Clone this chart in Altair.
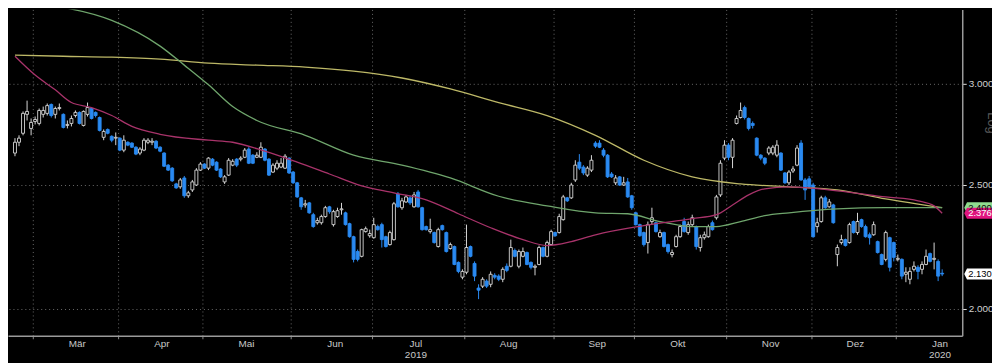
import altair as alt
import pandas as pd

# ---------------- data ----------------
opens = [2.648,2.700,2.744,2.839,2.768,2.803,2.793,2.839,2.844,2.890,2.839,2.869,2.839,2.783,2.793,2.833,2.849,2.783,2.839,2.869,
         2.849,2.823,2.724,2.763,2.729,2.720,2.720,2.662,2.700,2.696,2.676,2.648,2.662,2.700,2.700,2.705,2.676,2.648,2.591,2.577,
         2.505,2.492,2.532,2.452,2.478,2.500,2.568,2.596,2.577,2.619,2.605,2.573,2.514,2.545,2.591,2.619,2.619,2.628,2.667,2.638,
         2.628,2.628,2.667,2.619,2.559,2.577,2.582,2.577,2.624,2.559,2.510,2.443,2.412,2.421,2.370,2.336,2.336,2.362,2.404,2.328,
         2.362,2.391,2.378,2.332,2.278,2.218,2.199,2.299,2.282,2.274,2.320,2.328,2.278,2.246,2.266,2.460,2.400,2.425,2.443,2.404,
         2.469,2.400,2.320,2.299,2.295,2.238,2.324,2.295,2.230,2.238,2.175,2.118,2.137,2.238,2.171,2.077,2.084,2.103,2.091,2.125,
         2.122,2.110,2.160,2.160,2.222,2.160,2.199,2.214,2.175,2.156,2.167,2.234,2.199,2.246,2.295,2.295,2.349,2.443,2.443,2.523,
         2.605,2.582,2.545,2.568,2.696,2.696,2.662,2.638,2.550,2.510,2.537,2.500,2.514,2.452,2.378,2.328,2.295,2.254,2.341,2.336,
         2.278,2.295,2.246,2.206,2.238,2.278,2.341,2.295,2.328,2.320,2.234,2.274,2.278,2.336,2.357,2.456,2.624,2.686,2.628,2.793,
         2.823,2.874,2.818,2.793,2.720,2.638,2.624,2.648,2.648,2.638,2.648,2.555,2.510,2.564,2.591,2.696,2.523,2.528,2.500,2.320,
         2.341,2.443,2.404,2.412,2.206,2.254,2.266,2.254,2.341,2.295,2.349,2.320,2.286,2.286,2.258,2.206,2.187,2.274,2.254,2.187,
         2.187,2.129,2.110,2.148,2.156,2.148,2.167,2.210,2.187,2.179,2.133]
highs = [2.720,2.734,2.854,2.910,2.818,2.828,2.869,2.879,2.895,2.895,2.879,2.895,2.844,2.808,2.833,2.859,2.854,2.859,2.900,2.874,
         2.854,2.828,2.763,2.768,2.734,2.748,2.724,2.734,2.705,2.700,2.681,2.676,2.720,2.720,2.720,2.710,2.681,2.652,2.596,2.582,
         2.510,2.532,2.541,2.474,2.523,2.577,2.605,2.600,2.628,2.624,2.609,2.577,2.545,2.624,2.619,2.624,2.633,2.672,2.676,2.643,
         2.652,2.700,2.672,2.624,2.600,2.614,2.624,2.643,2.628,2.564,2.514,2.447,2.434,2.425,2.378,2.357,2.370,2.408,2.408,2.391,
         2.400,2.421,2.383,2.336,2.282,2.226,2.311,2.320,2.307,2.357,2.328,2.336,2.282,2.303,2.425,2.469,2.443,2.456,2.452,2.469,
         2.478,2.404,2.324,2.353,2.299,2.315,2.328,2.299,2.254,2.242,2.179,2.148,2.328,2.242,2.179,2.091,2.118,2.110,2.140,2.133,
         2.129,2.156,2.171,2.266,2.230,2.226,2.234,2.218,2.179,2.167,2.242,2.238,2.262,2.307,2.299,2.374,2.456,2.447,2.510,2.614,
         2.643,2.591,2.586,2.638,2.705,2.710,2.672,2.643,2.559,2.545,2.541,2.537,2.532,2.456,2.383,2.332,2.299,2.341,2.400,2.341,
         2.307,2.299,2.250,2.226,2.286,2.328,2.357,2.341,2.370,2.324,2.286,2.299,2.328,2.345,2.456,2.614,2.710,2.696,2.720,2.833,
         2.900,2.884,2.823,2.803,2.724,2.643,2.628,2.681,2.686,2.710,2.652,2.559,2.568,2.586,2.686,2.710,2.532,2.541,2.510,2.357,
         2.452,2.452,2.438,2.417,2.246,2.286,2.270,2.336,2.345,2.378,2.353,2.328,2.295,2.341,2.262,2.210,2.303,2.278,2.258,2.206,
         2.191,2.156,2.156,2.179,2.164,2.179,2.226,2.214,2.254,2.187,2.148]
lows = [2.633,2.681,2.734,2.808,2.734,2.788,2.783,2.823,2.833,2.823,2.818,2.859,2.768,2.768,2.778,2.823,2.788,2.778,2.828,2.813,
        2.823,2.753,2.710,2.739,2.700,2.686,2.657,2.652,2.681,2.672,2.638,2.638,2.657,2.691,2.686,2.667,2.652,2.582,2.564,2.514,
        2.483,2.483,2.443,2.443,2.469,2.496,2.564,2.573,2.568,2.586,2.564,2.532,2.505,2.541,2.586,2.582,2.609,2.624,2.596,2.596,
        2.624,2.624,2.609,2.541,2.555,2.568,2.577,2.573,2.550,2.505,2.443,2.391,2.400,2.374,2.315,2.328,2.328,2.357,2.374,2.320,
        2.357,2.370,2.324,2.274,2.175,2.179,2.195,2.295,2.274,2.270,2.303,2.234,2.234,2.242,2.262,2.400,2.391,2.421,2.412,2.400,
        2.400,2.303,2.303,2.291,2.250,2.234,2.303,2.214,2.226,2.164,2.133,2.110,2.129,2.195,2.103,2.036,2.077,2.077,2.080,2.110,
        2.103,2.099,2.137,2.156,2.195,2.152,2.195,2.164,2.148,2.125,2.164,2.195,2.195,2.242,2.278,2.291,2.345,2.425,2.438,2.514,
        2.568,2.545,2.537,2.559,2.672,2.672,2.628,2.532,2.532,2.500,2.496,2.496,2.443,2.391,2.324,2.278,2.238,2.210,2.328,2.295,
        2.274,2.234,2.210,2.195,2.234,2.274,2.295,2.286,2.320,2.226,2.218,2.266,2.274,2.303,2.349,2.447,2.614,2.614,2.577,2.788,
        2.818,2.813,2.758,2.768,2.633,2.614,2.591,2.638,2.638,2.628,2.564,2.505,2.500,2.555,2.586,2.519,2.434,2.487,2.274,2.295,
        2.336,2.395,2.400,2.332,2.160,2.246,2.238,2.250,2.291,2.286,2.315,2.274,2.246,2.282,2.210,2.164,2.179,2.140,2.179,2.179,
        2.110,2.099,2.091,2.140,2.110,2.129,2.164,2.175,2.148,2.103,2.122]
closes = [2.700,2.720,2.844,2.854,2.798,2.813,2.859,2.859,2.884,2.833,2.869,2.874,2.773,2.788,2.818,2.849,2.793,2.854,2.874,2.818,
          2.833,2.758,2.753,2.744,2.710,2.724,2.662,2.710,2.686,2.676,2.643,2.667,2.710,2.710,2.705,2.672,2.657,2.586,2.568,2.519,
          2.487,2.523,2.452,2.465,2.514,2.568,2.596,2.577,2.624,2.591,2.568,2.537,2.537,2.614,2.609,2.591,2.624,2.662,2.600,2.600,
          2.638,2.676,2.614,2.545,2.591,2.600,2.600,2.633,2.555,2.510,2.447,2.404,2.417,2.378,2.320,2.345,2.362,2.400,2.383,2.383,
          2.387,2.395,2.328,2.278,2.187,2.187,2.307,2.311,2.291,2.328,2.307,2.266,2.238,2.295,2.417,2.404,2.430,2.447,2.421,2.456,
          2.404,2.307,2.307,2.307,2.254,2.307,2.307,2.218,2.246,2.167,2.140,2.140,2.234,2.199,2.122,2.069,2.110,2.084,2.129,2.118,
          2.110,2.148,2.144,2.234,2.199,2.218,2.218,2.167,2.156,2.160,2.234,2.199,2.254,2.299,2.282,2.362,2.447,2.430,2.500,2.591,
          2.577,2.555,2.577,2.614,2.681,2.676,2.638,2.537,2.537,2.532,2.500,2.510,2.447,2.400,2.328,2.282,2.246,2.328,2.357,2.299,
          2.295,2.238,2.218,2.214,2.278,2.320,2.299,2.328,2.357,2.238,2.274,2.286,2.320,2.307,2.447,2.600,2.686,2.628,2.710,2.818,
          2.859,2.823,2.768,2.783,2.638,2.624,2.600,2.672,2.676,2.686,2.568,2.510,2.559,2.573,2.672,2.523,2.478,2.492,2.278,2.336,
          2.443,2.400,2.425,2.336,2.234,2.266,2.242,2.328,2.295,2.341,2.320,2.278,2.274,2.328,2.214,2.167,2.295,2.156,2.195,2.191,
          2.122,2.137,2.140,2.160,2.140,2.167,2.199,2.179,2.191,2.122,2.130]

# moving averages (sampled along the curves)
yellow_idx = [0, 12, 24, 36, 48, 60, 72, 84, 96, 108, 120, 132, 144, 156, 168, 180, 192, 204, 216, 230]
yellow_val = [3.158, 3.152, 3.147, 3.136, 3.113, 3.102, 3.091, 3.069, 3.031, 2.972, 2.900, 2.833, 2.734,
              2.614, 2.537, 2.505, 2.492, 2.478, 2.438, 2.400]
green_idx = [0, 12, 24, 36, 42, 48, 54, 60, 72, 84, 96, 108, 120, 132, 144, 152, 160, 168, 174, 180, 186,
             192, 204, 216, 230]
green_val = [3.47, 3.441, 3.362, 3.210, 3.102, 2.994, 2.879, 2.808, 2.734, 2.638, 2.591, 2.532, 2.450, 2.408,
             2.378, 2.374, 2.341, 2.320, 2.320, 2.341, 2.366, 2.378, 2.395, 2.400, 2.400]
magenta_idx = [0, 5, 10, 14, 19, 24, 29, 36, 48, 54, 62, 70, 78, 86, 94, 102, 110, 118, 126, 132, 138, 144,
               156, 168, 174, 178, 182, 186, 192, 204, 216, 224, 228, 230]
magenta_val = [3.152, 3.047, 2.967, 2.900, 2.874, 2.833, 2.778, 2.739, 2.710, 2.700, 2.657, 2.605, 2.550,
               2.496, 2.465, 2.434, 2.374, 2.315, 2.266, 2.242, 2.258, 2.286, 2.324, 2.353, 2.370, 2.412,
               2.456, 2.483, 2.492, 2.474, 2.447, 2.430, 2.408, 2.376]

# month starts (trading-day index) and names
month_start_idx = [5, 26, 47, 69, 89, 112, 134, 154, 177, 198, 219]
month_names = ["Mär", "Apr", "Mai", "Jun", "Jul", "Aug", "Sep", "Okt", "Nov", "Dez", "Jan"]
year_at_month = {"Jul": "2019", "Jan": "2020"}

y_ticks = [2.0, 2.5, 3.0]
y_domain = [1.906, 3.429]

label_vals = [2.400, 2.376, 2.130]
label_texts = ["2.400", "2.376", "2.130 N"]
label_fills = ["#8fdc8f", "#e0157f", "#ffffff"]
label_text_colors = ["#0a0a0a", "#ffffff", "#000000"]

# ---------------- build ----------------
df = pd.DataFrame({"i": list(range(len(closes))), "open": opens, "high": highs,
                   "low": lows, "close": closes})

FONT = "Liberation Sans Narrow, Arial Narrow, Liberation Sans, Arial, sans-serif"
BLUE = "#2a8af2"
WHITE = "#d8d8d8"

tick_vals = [m - 0.5 for m in month_start_idx]
parts = []
for v, n in zip(tick_vals, month_names):
    if n in year_at_month:
        parts.append(f"'{v}':['{n}','{year_at_month[n]}']")
    else:
        parts.append(f"'{v}':'{n}'")
label_expr = "{" + ",".join(parts) + "}[''+datum.value]"

xscale = alt.Scale(domain=[-0.5, 233.75], nice=False, zero=False)
yscale = alt.Scale(type="log", domain=y_domain, nice=False, zero=False)

x_axis = alt.Axis(values=tick_vals, labelExpr=label_expr, grid=True, gridDash=[1, 3],
                  gridColor="#6a6a6a", gridWidth=1, tickColor="#8a8a8a", tickSize=3,
                  domainColor="#9a9a9a", domainWidth=1.5, labelColor="#c8c8c8",
                  labelFontSize=10, labelFont=FONT, labelOffset=44, labelPadding=0,
                  labelLineHeight=10.5, labelFlush=False, labelOverlap=False, labelBound=False,
                  title=None)
y_axis = alt.Axis(orient="right", values=y_ticks, format=".3f", grid=True, gridDash=[1, 3],
                  gridColor="#6a6a6a", gridWidth=1, tickColor="#e0e0e0", tickSize=4,
                  domainColor="#9a9a9a", domainWidth=1.5, labelColor="#cfcfcf",
                  labelFontSize=10, labelFont=FONT, labelPadding=2,
                  title="Log", titleAngle=90, titleColor="#5a5a5a", titleFontSize=13,
                  titleFont=FONT, titleFontWeight="normal", titleX=29, titleY=114,
                  titleAlign="center", titleBaseline="middle")

is_up = "datum.close >= datum.open"

wicks = alt.Chart(df).mark_rule(strokeWidth=1).encode(
    x=alt.X("i:Q", scale=xscale, axis=x_axis),
    y=alt.Y("low:Q", scale=yscale, axis=y_axis),
    y2="high:Q",
    color=alt.condition(is_up, alt.value(WHITE), alt.value(BLUE)),
)

bodies = alt.Chart(df).mark_bar(width=3, strokeWidth=0.9).encode(
    x=alt.X("i:Q", scale=xscale),
    y=alt.Y("open:Q", scale=yscale),
    y2="close:Q",
    fill=alt.condition(is_up, alt.value("#000000"), alt.value(BLUE)),
    stroke=alt.condition(is_up, alt.value(WHITE), alt.value(BLUE)),
)

def ma_line(idx, vals, color):
    d = pd.DataFrame({"i": idx, "v": vals})
    return alt.Chart(d).mark_line(clip=True, interpolate="monotone", strokeWidth=1.3,
                                  color=color).encode(
        x=alt.X("i:Q", scale=xscale),
        y=alt.Y("v:Q", scale=yscale),
    )

yellow = ma_line(yellow_idx, yellow_val, "#bdb867")
green = ma_line(green_idx, green_val, "#6fa56c")
magenta = ma_line(magenta_idx, magenta_val, "#a8336a")

ldf = pd.DataFrame({"v": label_vals, "t": label_texts, "fill": label_fills,
                    "tc": label_text_colors, "order": [0, 1, 2]})
tag_path = "M-1,0 L-0.86,-0.28 L1,-0.28 L1,0.28 L-0.86,0.28 Z"
tags = alt.Chart(ldf).mark_point(shape=tag_path, size=1600, filled=True, opacity=1,
                                 strokeWidth=0).encode(
    x=alt.value(984),
    y=alt.Y("v:Q", scale=yscale),
    fill=alt.Color("fill:N", scale=None),
    order="order:Q",
)
tag_text = alt.Chart(ldf).mark_text(align="left", baseline="middle", fontSize=9.5,
                                    font=FONT, dx=0).encode(
    x=alt.value(968),
    y=alt.Y("v:Q", scale=yscale),
    text="t:N",
    color=alt.Color("tc:N", scale=None),
)

chart = alt.layer(wicks, bodies, yellow, green, magenta, tags, tag_text).properties(
    width=962, height=329,
    autosize=alt.AutoSizeParams(type="none"),
    padding={"left": 0, "top": 0, "right": 30, "bottom": 26},
    background="#000000",
).configure_view(stroke=None)

chart.save("out.html", embed_options={"renderer": "svg", "actions": False})
